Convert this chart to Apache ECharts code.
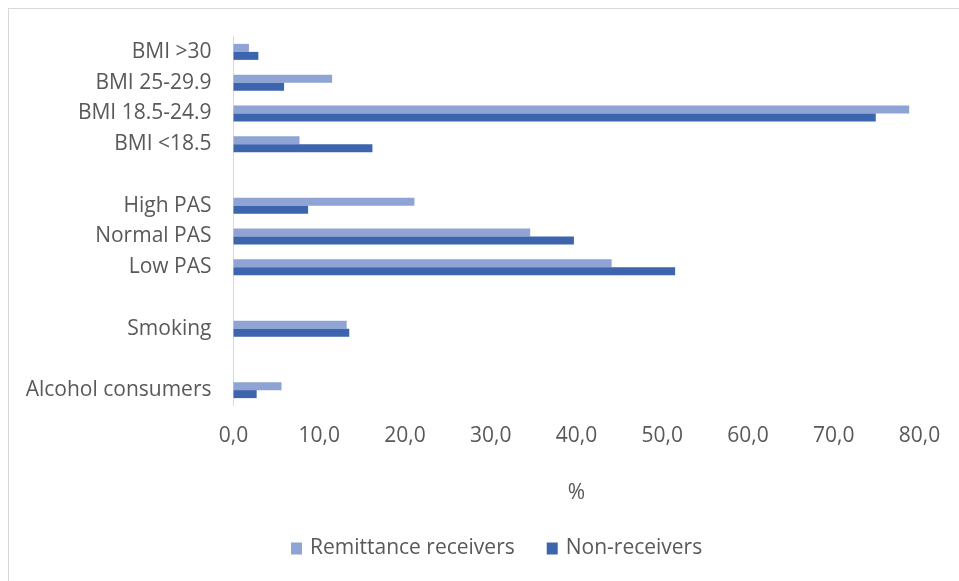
<!DOCTYPE html>
<html>
<head>
<meta charset="utf-8">
<script src="https://cdn.jsdelivr.net/npm/echarts@6/dist/echarts.min.js"></script>
<style>
html,body{margin:0;padding:0;background:#fff;overflow:hidden;}
#frame{position:absolute;left:8px;top:8px;width:1000px;height:700px;border:1px solid #d9d9d9;box-sizing:border-box;pointer-events:none;}
#chart{position:absolute;left:0;top:0;width:959px;height:581px;}
</style>
</head>
<body>
<div id="frame"></div>
<div id="chart"></div>
<script>
const categories = ['BMI >30', 'BMI 25-29.9', 'BMI 18.5-24.9', 'BMI <18.5', ' ', 'High PAS', 'Normal PAS', 'Low PAS', '  ', 'Smoking', '   ', 'Alcohol consumers'];
const remittanceReceivers = [1.8, 11.5, 78.8, 7.7, null, 21.1, 34.6, 44.1, null, 13.2, null, 5.6];
const nonReceivers = [2.9, 5.9, 74.9, 16.2, null, 8.7, 39.7, 51.5, null, 13.5, null, 2.7];
const xTicks = [0, 10, 20, 30, 40, 50, 60, 70, 80];
const seriesNames = ['Remittance receivers', 'Non-receivers'];

const font = 'Open Sans';
const chart = echarts.init(document.getElementById('chart'));
chart.setOption({
  animation: false,
  color: ['#8fa4d5', '#3d65ad'],
  textStyle: { fontFamily: font },
  grid: { left: 233.5, right: 39.5, top: 36.5, bottom: 175.5, containLabel: false },
  xAxis: {
    type: 'value',
    min: xTicks[0],
    max: xTicks[xTicks.length - 1],
    interval: xTicks[1] - xTicks[0],
    name: '%',
    nameLocation: 'middle',
    nameGap: 77,
    nameTextStyle: { color: '#595959', fontSize: 21, fontFamily: font },
    axisLine: { show: false },
    axisTick: { show: false },
    splitLine: { show: false },
    axisLabel: {
      color: '#595959', fontSize: 21, fontFamily: font, margin: 20,
      formatter: v => v.toFixed(1).replace('.', ',')
    }
  },
  yAxis: {
    type: 'category',
    data: categories,
    inverse: true,
    axisLine: { show: true, lineStyle: { color: '#d9d9d9', width: 1 } },
    axisTick: { show: false },
    splitLine: { show: false },
    axisLabel: { color: '#595959', fontSize: 21, fontFamily: font, margin: 22 }
  },
  legend: {
    top: 533,
    left: 286,
    itemWidth: 11,
    itemHeight: 12,
    itemGap: 32,
    icon: 'rect',
    textStyle: { color: '#595959', fontSize: 21, fontFamily: font, padding: [0, 0, 0, 3] },
    data: seriesNames
  },
  series: [
    { name: seriesNames[0], type: 'bar', data: remittanceReceivers, barWidth: 8, barGap: '0%' },
    { name: seriesNames[1], type: 'bar', data: nonReceivers, barWidth: 8, barGap: '0%' }
  ]
});
</script>
</body>
</html>
